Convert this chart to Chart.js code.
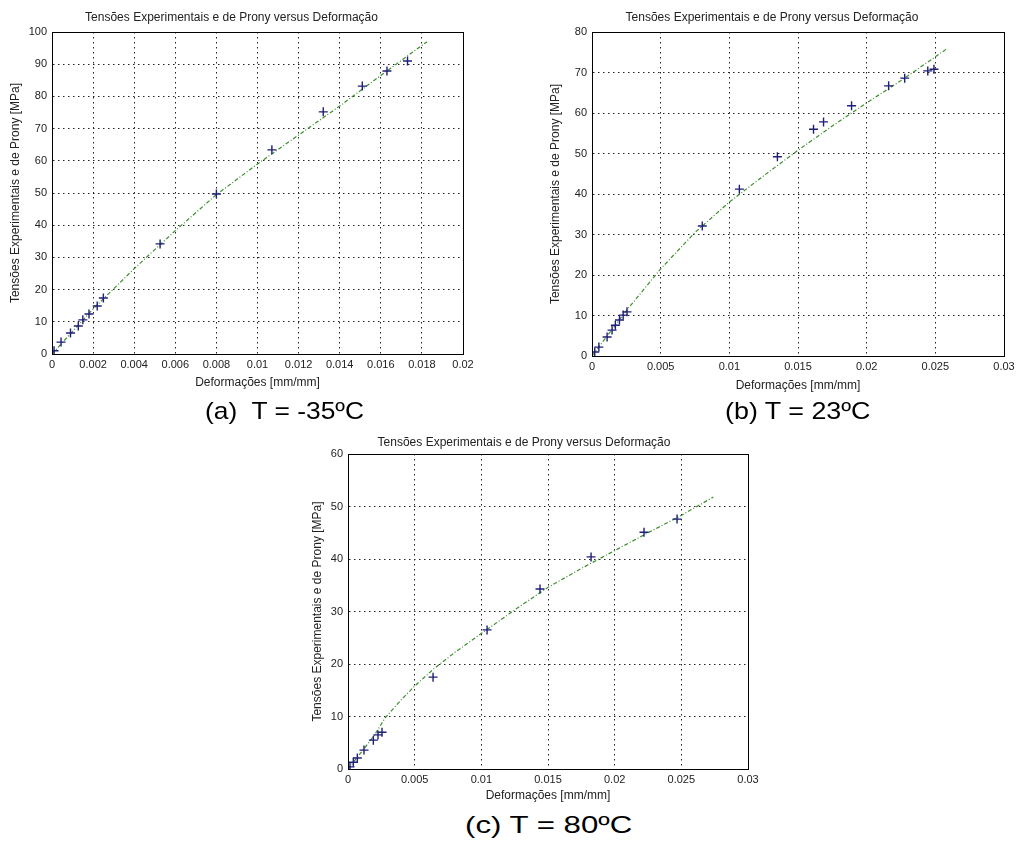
<!DOCTYPE html>
<html>
<head>
<meta charset="utf-8">
<script src="https://cdn.jsdelivr.net/npm/chart.js@4/dist/chart.umd.min.js"></script>
<style>
  body { margin: 0; background: #fff; width: 1020px; height: 841px; position: relative; overflow: hidden; }
  .box { position: absolute; }
  .cap { position: absolute; font-family: Arial, "Liberation Sans", sans-serif; font-size: 24px; color: #000; white-space: pre; transform-origin: left top; }
</style>
</head>
<body>
<div class="box" style="left:0;top:0;width:500px;height:395px"><canvas id="chart-a"></canvas></div>
<div class="box" style="left:540px;top:0;width:480px;height:395px"><canvas id="chart-b"></canvas></div>
<div class="box" style="left:270px;top:420px;width:500px;height:385px"><canvas id="chart-c"></canvas></div>
<div class="cap" style="left:205px;top:397px;transform:scaleX(1.1)">(a)  T = -35ºC</div>
<div class="cap" style="left:725px;top:397px;transform:scaleX(1.12)">(b) T = 23ºC</div>
<div class="cap" style="left:465px;top:811px;transform:scaleX(1.3)">(c) T = 80ºC</div>
<script>
const titleText = 'Tensões Experimentais e de Prony versus Deformação';
const yLabel = 'Tensões Experimentais e de Prony [MPa]';
const xLabel = 'Deformações [mm/mm]';

// (a) T = -35ºC
const strainA = [0.0001, 0.00044, 0.0009, 0.00128, 0.0015, 0.0018, 0.0022, 0.0025, 0.00526, 0.008, 0.0107, 0.0132, 0.0151, 0.0163, 0.0173];
const stressA = [1.0, 3.7, 6.5, 8.7, 10.6, 12.4, 14.9, 17.4, 34.2, 49.7, 63.4, 75.2, 83.2, 87.9, 91];
const fitStrainA = [0, 0.002, 0.004, 0.006, 0.008, 0.010, 0.012, 0.014, 0.016, 0.01825];
const fitStressA = [0, 14, 26.5, 38.3, 49.5, 59, 68, 77, 86.5, 97];

// (b) T = 23ºC
const strainB = [0.0002, 0.0005, 0.0011, 0.00146, 0.0017, 0.002, 0.00227, 0.00255, 0.00803, 0.01073, 0.0135, 0.01613, 0.01686, 0.0189, 0.0216, 0.02277, 0.02445, 0.0249];
const stressB = [1, 2.2, 4.7, 6.4, 7.6, 8.9, 10.1, 10.9, 32.1, 41.2, 49.2, 56, 57.8, 61.8, 66.7, 68.6, 70.4, 70.8];
const fitStrainB = [0, 0.0025, 0.005, 0.0075, 0.01, 0.0125, 0.015, 0.0175, 0.02, 0.0225, 0.0259];
const fitStressB = [0, 11.2, 21.5, 30.5, 38, 44.5, 50.8, 56.8, 62.5, 68, 76];

// (c) T = 80ºC
const strainC = [0.00015, 0.0004, 0.0007, 0.0012, 0.0019, 0.00225, 0.00255, 0.00638, 0.01043, 0.0144, 0.01823, 0.0222, 0.02468];
const stressC = [0.4, 1.3, 2.1, 3.6, 5.5, 6.5, 7.0, 17.5, 26.5, 34.3, 40.4, 45.1, 47.6];
const fitStrainC = [0, 0.001, 0.002, 0.0028, 0.004, 0.005, 0.0064, 0.008, 0.01, 0.0125, 0.015, 0.0175, 0.02, 0.0225, 0.025, 0.0274];
const fitStressC = [0, 3.2, 6.5, 9.8, 13.2, 15.8, 19, 22.2, 25.8, 30.3, 34.6, 38.2, 41.6, 45, 48.3, 51.8];

const font = { family: 'Arial, "Liberation Sans", sans-serif', size: 11 };
const labelFont = { family: 'Arial, "Liberation Sans", sans-serif', size: 12 };

const boxPlugin = {
    id: 'box',
    afterDraw(chart) {
        const { ctx, chartArea: a } = chart;
        ctx.save();
        ctx.strokeStyle = '#000';
        ctx.lineWidth = 1;
        ctx.strokeRect(Math.round(a.left) + 0.5, Math.round(a.top) + 0.5, Math.round(a.right - a.left), Math.round(a.bottom - a.top));
        ctx.restore();
    }
};

function pairs(xs, ys) {
    return xs.map((x, i) => ({ x: x, y: ys[i] }));
}

function makeChart(id, cfg) {
    const ctx = document.getElementById(id).getContext('2d');
    return new Chart(ctx, {
        type: 'scatter',
        data: {
            datasets: [{
                data: pairs(cfg.fitX, cfg.fitY),
                showLine: true,
                borderColor: '#3d8f2c',
                borderWidth: 1.2,
                borderDash: [4, 2, 1, 2],
                pointRadius: 0,
                order: 2
            }, {
                data: pairs(cfg.x, cfg.y),
                pointStyle: 'cross',
                pointRadius: 4.5,
                pointBorderWidth: 1.4,
                borderColor: '#1f1f78',
                backgroundColor: '#1f1f78',
                order: 1
            }]
        },
        options: {
            responsive: true,
            maintainAspectRatio: false,
            animation: false,
            layout: { padding: { left: cfg.padLeft, right: cfg.padRight, top: 0, bottom: 0 } },
            plugins: {
                legend: { display: false },
                tooltip: { enabled: false },
                title: {
                    display: true,
                    text: titleText,
                    color: '#222',
                    font: { ...labelFont, weight: 'normal' },
                    padding: { top: cfg.titleTop, bottom: cfg.titleBottom }
                }
            },
            scales: {
                x: {
                    type: 'linear',
                    min: 0,
                    max: cfg.xMax,
                    afterBuildTicks: s => { s.ticks = cfg.xTicks.map(v => ({ value: v })); },
                    afterFit: s => { s.height = cfg.xHeight; },
                    ticks: { color: '#222', font: font, padding: 4, maxRotation: 0, callback: v => String(v) },
                    grid: { color: '#222', drawTicks: false },
                    border: { display: true, color: '#000', width: 1, dash: [1.5, 3.5] },
                    title: { display: true, text: xLabel, color: '#222', font: labelFont, padding: { top: 0, bottom: cfg.xTitleBottom } }
                },
                y: {
                    type: 'linear',
                    min: 0,
                    max: cfg.yMax,
                    ticks: { stepSize: 10, color: '#222', font: font, padding: 5 },
                    afterFit: s => { s.width = cfg.yWidth; },
                    grid: { color: '#222', drawTicks: false },
                    border: { display: true, color: '#000', width: 1, dash: [1.5, 3.5] },
                    title: { display: true, text: yLabel, color: '#222', font: labelFont, padding: { top: cfg.yTitleTop, bottom: 0 } }
                }
            }
        },
        plugins: [boxPlugin]
    });
}

makeChart('chart-a', {
    x: strainA, y: stressA, fitX: fitStrainA, fitY: fitStressA,
    xMax: 0.02, yMax: 100,
    xTicks: [0, 0.002, 0.004, 0.006, 0.008, 0.01, 0.012, 0.014, 0.016, 0.018, 0.02],
    padLeft: 0, padRight: 37, yWidth: 52, yTitleTop: 8,
    titleTop: 10, titleBottom: 7.6, xHeight: 41, xTitleBottom: 5
});

makeChart('chart-b', {
    x: strainB, y: stressB, fitX: fitStrainB, fitY: fitStressB,
    xMax: 0.03, yMax: 80,
    xTicks: [0, 0.005, 0.01, 0.015, 0.02, 0.025, 0.03],
    padLeft: 0, padRight: 16, yWidth: 52, yTitleTop: 8,
    titleTop: 10, titleBottom: 7.6, xHeight: 39, xTitleBottom: 2
});

makeChart('chart-c', {
    x: strainC, y: stressC, fitX: fitStrainC, fitY: fitStressC,
    xMax: 0.03, yMax: 60,
    xTicks: [0, 0.005, 0.01, 0.015, 0.02, 0.025, 0.03],
    padLeft: 30, padRight: 22, yWidth: 48, yTitleTop: 10,
    titleTop: 15, titleBottom: 4.6, xHeight: 36, xTitleBottom: 2
});
</script>
</body>
</html>
